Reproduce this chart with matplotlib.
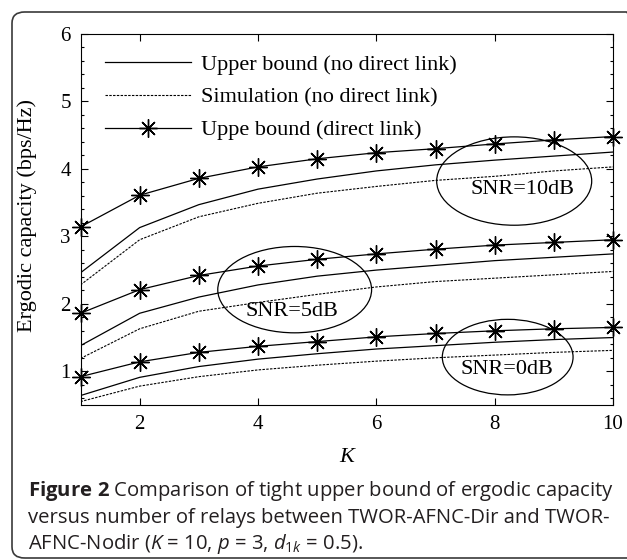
import matplotlib
matplotlib.use('Agg')
import matplotlib.pyplot as plt
from matplotlib.patches import Ellipse, FancyBboxPatch
from matplotlib.ticker import MultipleLocator

# Number of relays
K = [1, 2, 3, 4, 5, 6, 7, 8, 9, 10]

# SNR = 10 dB
ub10 = [2.46, 3.13, 3.47, 3.70, 3.85, 3.97, 4.06, 4.13, 4.19, 4.25]
sim10 = [2.28, 2.95, 3.29, 3.49, 3.64, 3.74, 3.83, 3.89, 3.97, 4.03]
dir10 = [3.14, 3.61, 3.86, 4.03, 4.15, 4.24, 4.30, 4.37, 4.43, 4.48]

# SNR = 5 dB
ub5 = [1.38, 1.86, 2.10, 2.28, 2.41, 2.50, 2.57, 2.64, 2.69, 2.74]
sim5 = [1.19, 1.63, 1.89, 2.02, 2.14, 2.25, 2.33, 2.38, 2.43, 2.48]
dir5 = [1.86, 2.21, 2.42, 2.56, 2.66, 2.74, 2.81, 2.87, 2.91, 2.95]

# SNR = 0 dB
ub0 = [0.64, 0.91, 1.07, 1.18, 1.26, 1.33, 1.38, 1.43, 1.47, 1.50]
sim0 = [0.55, 0.78, 0.92, 1.02, 1.09, 1.15, 1.20, 1.24, 1.28, 1.31]
dir0 = [0.92, 1.14, 1.28, 1.37, 1.44, 1.51, 1.56, 1.60, 1.63, 1.65]

legend_labels = ['Upper bound (no direct link)',
                 'Simulation (no direct link)',
                 'Uppe bound (direct link)']

snr_labels = ['SNR=10dB', 'SNR=5dB', 'SNR=0dB']

caption = [r'$\mathbf{Figure\ 2}$ Comparison of tight upper bound of ergodic capacity',
           'versus number of relays between TWOR-AFNC-Dir and TWOR-',
           r'AFNC-Nodir ($K$ = 10, $p$ = 3, $d_{1k}$ = 0.5).']

plt.rcParams['mathtext.fontset'] = 'custom'
plt.rcParams['mathtext.rm'] = 'Open Sans'
plt.rcParams['mathtext.it'] = 'Open Sans:italic'
plt.rcParams['mathtext.bf'] = 'Open Sans:bold'

W, H = 627, 560
fig = plt.figure(figsize=(W / 100, H / 100), dpi=100)

# rounded frame around figure + caption
frame = FancyBboxPatch((12 / W, 2 / H), 1.0, 1 - 14 / H,
                       boxstyle="round,pad=0,rounding_size=0.02",
                       transform=fig.transFigure, facecolor='none',
                       edgecolor='#3a3a3a', linewidth=1.2, clip_on=False)
fig.patches.append(frame)

ax = fig.add_axes([80.5 / W, 155 / H, (613 - 80.5) / W, (405 - 34) / H])
serif = 'Liberation Serif'

solid = dict(color='black', linewidth=0.9)
dashed = dict(color='black', linewidth=0.8, linestyle=(0, (2.2, 1.2)))
star = dict(color='black', linewidth=0.9, marker=(8, 2, 0),
            markersize=13, markeredgewidth=1.0)

for ub, sim, dr in [(ub10, sim10, dir10), (ub5, sim5, dir5), (ub0, sim0, dir0)]:
    l1, = ax.plot(K, ub, **solid)
    l2, = ax.plot(K, sim, **dashed)
    l3, = ax.plot(K, dr, **star, clip_on=False, zorder=5)

leg = ax.legend([l1, l2, l3], legend_labels, loc='upper left',
                bbox_to_anchor=(0.026, 0.975), frameon=False,
                prop={'family': serif, 'size': 16}, handlelength=3.85,
                handletextpad=0.45, labelspacing=0.55, borderpad=0,
                numpoints=1)

# ellipses marking SNR groups
ells = [((8.33, 3.82), 2.62, 1.31), ((4.62, 2.21), 2.6, 1.28), ((8.22, 1.21), 2.21, 1.12)]
txt_pos = [(8.47, 3.69), (4.57, 1.88), (8.2, 1.03)]
for (c, w, h), (tx, ty), lab in zip(ells, txt_pos, snr_labels):
    ax.add_patch(Ellipse(c, w, h, facecolor='none', edgecolor='black', linewidth=0.9))
    ax.text(tx, ty, lab, ha='center', va='center', family=serif, fontsize=16)

ax.set_xlim(1, 10)
ax.set_ylim(0.5, 6)
ax.set_xticks([2, 4, 6, 8, 10])
ax.set_yticks([1, 2, 3, 4, 5, 6])
ax.yaxis.set_minor_locator(MultipleLocator(0.2))
ax.tick_params(which='both', direction='in', top=True, right=True)
ax.tick_params(which='major', length=5, width=0.8, pad=7)
ax.tick_params(which='minor', length=2.5, width=0.8)
for lbl in ax.get_xticklabels() + ax.get_yticklabels():
    lbl.set_family(serif)
    lbl.set_fontsize(15)
for s in ax.spines.values():
    s.set_linewidth(0.8)

ax.set_ylabel('Ergodic capacity (bps/Hz)', family=serif, fontsize=16)
ax.yaxis.set_label_coords(-0.082, 0.51)
ax.set_xlabel('K', family=serif, fontsize=16, style='italic')
ax.xaxis.set_label_coords(0.5, -0.115)

# caption
for i, line in enumerate(caption):
    fig.text(28 / W, 1 - (496 + 26.5 * i) / H, line, ha='left', va='baseline',
             family='Open Sans', fontsize=14.6, color='#231f20')

fig.savefig('out.png', dpi=100, facecolor='white')
